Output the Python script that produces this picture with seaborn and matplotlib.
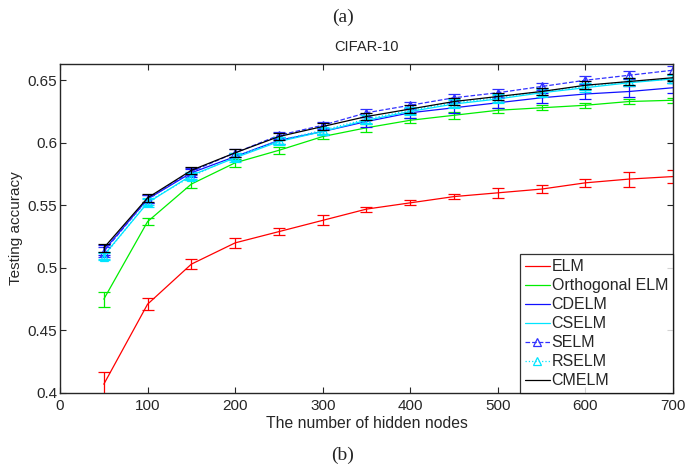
import numpy as np
import pandas as pd
import matplotlib
matplotlib.use('Agg')
import matplotlib.pyplot as plt
import seaborn as sns

nodes = [50, 100, 150, 200, 250, 300, 350, 400, 450, 500, 550, 600, 650, 700]

elm = [0.407, 0.471, 0.503, 0.520, 0.529, 0.538, 0.547, 0.552, 0.557, 0.560, 0.563, 0.568, 0.571, 0.573]
elm_err = [0.010, 0.005, 0.004, 0.004, 0.003, 0.004, 0.002, 0.002, 0.002, 0.004, 0.003, 0.003, 0.006, 0.005]

orth = [0.475, 0.537, 0.567, 0.584, 0.594, 0.605, 0.612, 0.618, 0.622, 0.626, 0.628, 0.630, 0.633, 0.634]
orth_err = [0.006, 0.003, 0.003, 0.003, 0.003, 0.002, 0.003, 0.002, 0.003, 0.002, 0.002, 0.002, 0.002, 0.002]

cdelm = [0.514, 0.555, 0.576, 0.589, 0.602, 0.609, 0.617, 0.624, 0.628, 0.632, 0.636, 0.639, 0.641, 0.644]
cdelm_err = [0.004, 0.003, 0.003, 0.003, 0.003, 0.003, 0.004, 0.004, 0.004, 0.004, 0.004, 0.004, 0.004, 0.004]

cselm = [0.510, 0.552, 0.574, 0.588, 0.601, 0.609, 0.618, 0.625, 0.631, 0.635, 0.640, 0.644, 0.648, 0.651]
cselm_err = [0.003, 0.003, 0.003, 0.003, 0.003, 0.003, 0.003, 0.003, 0.003, 0.003, 0.003, 0.003, 0.003, 0.003]

selm = [0.513, 0.555, 0.577, 0.592, 0.606, 0.614, 0.624, 0.630, 0.636, 0.640, 0.645, 0.650, 0.654, 0.658]
selm_err = [0.004, 0.003, 0.003, 0.003, 0.003, 0.003, 0.003, 0.003, 0.003, 0.003, 0.003, 0.003, 0.003, 0.003]

rselm = [0.509, 0.553, 0.573, 0.589, 0.602, 0.610, 0.619, 0.626, 0.632, 0.636, 0.641, 0.645, 0.649, 0.651]
rselm_err = [0.003, 0.003, 0.003, 0.003, 0.003, 0.003, 0.003, 0.003, 0.003, 0.003, 0.003, 0.003, 0.003, 0.003]

cmelm = [0.516, 0.556, 0.578, 0.592, 0.605, 0.613, 0.621, 0.627, 0.633, 0.637, 0.641, 0.646, 0.649, 0.652]
cmelm_err = [0.003, 0.003, 0.003, 0.003, 0.003, 0.003, 0.003, 0.003, 0.003, 0.003, 0.003, 0.003, 0.003, 0.003]

names = ['ELM', 'Orthogonal ELM', 'CDELM', 'CSELM', 'SELM', 'RSELM', 'CMELM']

sns.set_style('ticks')
plt.rcParams['font.family'] = ['Liberation Sans', 'DejaVu Sans']
plt.rcParams['xtick.direction'] = 'in'
plt.rcParams['ytick.direction'] = 'in'

fig = plt.figure(figsize=(6.86, 4.67), dpi=100)
ax = fig.add_axes([0.0875, 0.1585, 0.8935, 0.7045])

series = [
    (elm, elm_err, '#ff0000', '-', None),
    (orth, orth_err, '#00ee00', '-', None),
    (cdelm, cdelm_err, '#1010ff', '-', None),
    (cselm, cselm_err, '#00e5ff', '-', None),
    (selm, selm_err, '#3030ff', '--', '^'),
    (rselm, rselm_err, '#00e5ff', ':', '^'),
    (cmelm, cmelm_err, '#000000', '-', None),
]

for name, (vals, err, col, ls, mk) in zip(names, series):
    sns.lineplot(x=nodes, y=vals, ax=ax, color=col, linestyle=ls, linewidth=0.9,
                 marker=mk, markersize=6, markerfacecolor='none', markeredgecolor=col,
                 markeredgewidth=0.9, label=name)
    ax.errorbar(nodes, vals, yerr=err, fmt='none', ecolor=col, elinewidth=0.9,
                capsize=4, capthick=0.9)

ax.set_xlim(0, 700)
ax.set_ylim(0.4, 0.663)
ax.set_xticks(range(0, 701, 100))
ax.set_yticks([0.4, 0.45, 0.5, 0.55, 0.6, 0.65])
ax.set_yticklabels(['0.4', '0.45', '0.5', '0.55', '0.6', '0.65'])
ax.tick_params(top=True, right=True, labelsize=11, length=4, width=0.8)
ax.tick_params(axis='x', pad=4)
ax.tick_params(axis='y', pad=2)
for s in ax.spines.values():
    s.set_linewidth(1.0)

ax.set_xlabel('The number of hidden nodes', fontsize=11.3, labelpad=2.5)
ax.set_ylabel('Testing accuracy', fontsize=11, labelpad=3)
ax.set_title('CIFAR-10', fontsize=10.5, pad=9)

leg = ax.legend(loc='lower right', borderaxespad=0, fontsize=11.5, handlelength=1.6,
                handletextpad=0.1, labelspacing=0.25, fancybox=False, frameon=True,
                borderpad=0.3)
leg.get_frame().set_edgecolor('black')
leg.get_frame().set_linewidth(0.9)

fig.text(0.5, 0.962, '(a)', ha='center', va='center', fontsize=14, family='Liberation Serif')
fig.text(0.5, 0.026, '(b)', ha='center', va='center', fontsize=14, family='Liberation Serif')

fig.savefig('out.png', dpi=100)
